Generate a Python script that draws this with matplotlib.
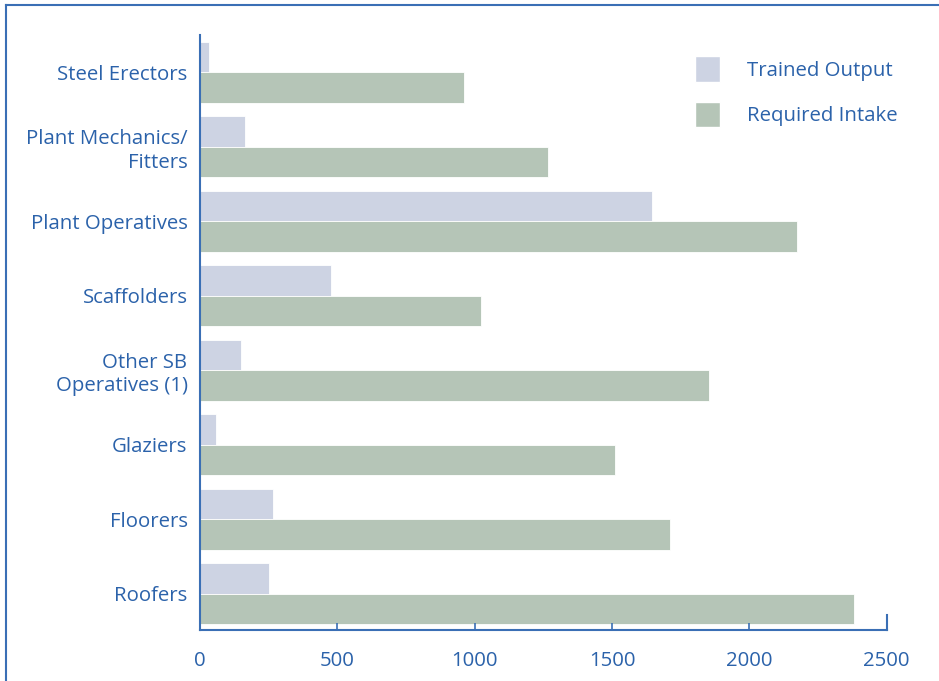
import matplotlib
matplotlib.use("Agg")
import matplotlib.pyplot as plt
from matplotlib.lines import Line2D
from matplotlib.patches import Patch
import numpy as np

categories = ["Steel Erectors", "Plant Mechanics/\nFitters", "Plant Operatives",
              "Scaffolders", "Other SB\nOperatives (1)", "Glaziers", "Floorers", "Roofers"]
trained_output = [33, 165, 1645, 478, 150, 60, 265, 250]
required_intake = [962, 1268, 2172, 1022, 1852, 1510, 1710, 2380]
xticks = [0, 500, 1000, 1500, 2000, 2500]

blue = "#2b62aa"
spine_blue = "#3a6fb5"
c_trained = "#cdd3e3"
c_required = "#b5c5b7"

plt.rcParams['font.family'] = ['Open Sans', 'DejaVu Sans']
fs = 14.7

fig = plt.figure(figsize=(9.39, 6.81), dpi=100)
ax = fig.add_axes([200/939, 1-630/681, (886.7-200)/939, (630-35)/681])

y = np.arange(len(categories))
h = 0.41
ax.barh(y - h/2, trained_output, height=h, color=c_trained, edgecolor="white", linewidth=0.6, label="Trained Output")
ax.barh(y + h/2, required_intake, height=h, color=c_required, edgecolor="white", linewidth=0.6, label="Required Intake")

ax.set_xlim(0, 2500)
ax.set_ylim(7.49, -0.5)
ax.set_yticks(y)
ax.set_yticklabels(categories, color=blue, fontsize=fs, linespacing=1.22)
ax.tick_params(axis='y', length=0, pad=9)
ax.set_xticks(xticks)
ax.set_xticklabels([str(t) for t in xticks], color=blue, fontsize=fs)
ax.tick_params(axis='x', direction='in', length=5, width=1.2, color=spine_blue, pad=15)

for s in ['top', 'right']:
    ax.spines[s].set_visible(False)
for s in ['left', 'bottom']:
    ax.spines[s].set_color(spine_blue)
    ax.spines[s].set_linewidth(1.5)

# taller end tick at 2500
ax.plot([2500, 2500], [7.49, 7.29], color=spine_blue, lw=1.5, clip_on=False)

handles = [Patch(facecolor=c_trained, edgecolor="white"), Patch(facecolor=c_required, edgecolor="white")]
leg = ax.legend(handles, ["Trained Output", "Required Intake"], loc='upper left',
                bbox_to_anchor=(0.709, 0.978), frameon=False, fontsize=fs,
                handlelength=1.2, handleheight=1.55, handletextpad=1.35, labelspacing=0.98,
                borderaxespad=0.0)
for t in leg.get_texts():
    t.set_color(blue)

# outer frame (left and top)
fig.add_artist(Line2D([6/939, 6/939], [0, 1-5/681], color=spine_blue, lw=1.5, transform=fig.transFigure))
fig.add_artist(Line2D([6/939, 1], [1-5/681, 1-5/681], color=spine_blue, lw=1.5, transform=fig.transFigure))

fig.savefig("out.png", dpi=100)
